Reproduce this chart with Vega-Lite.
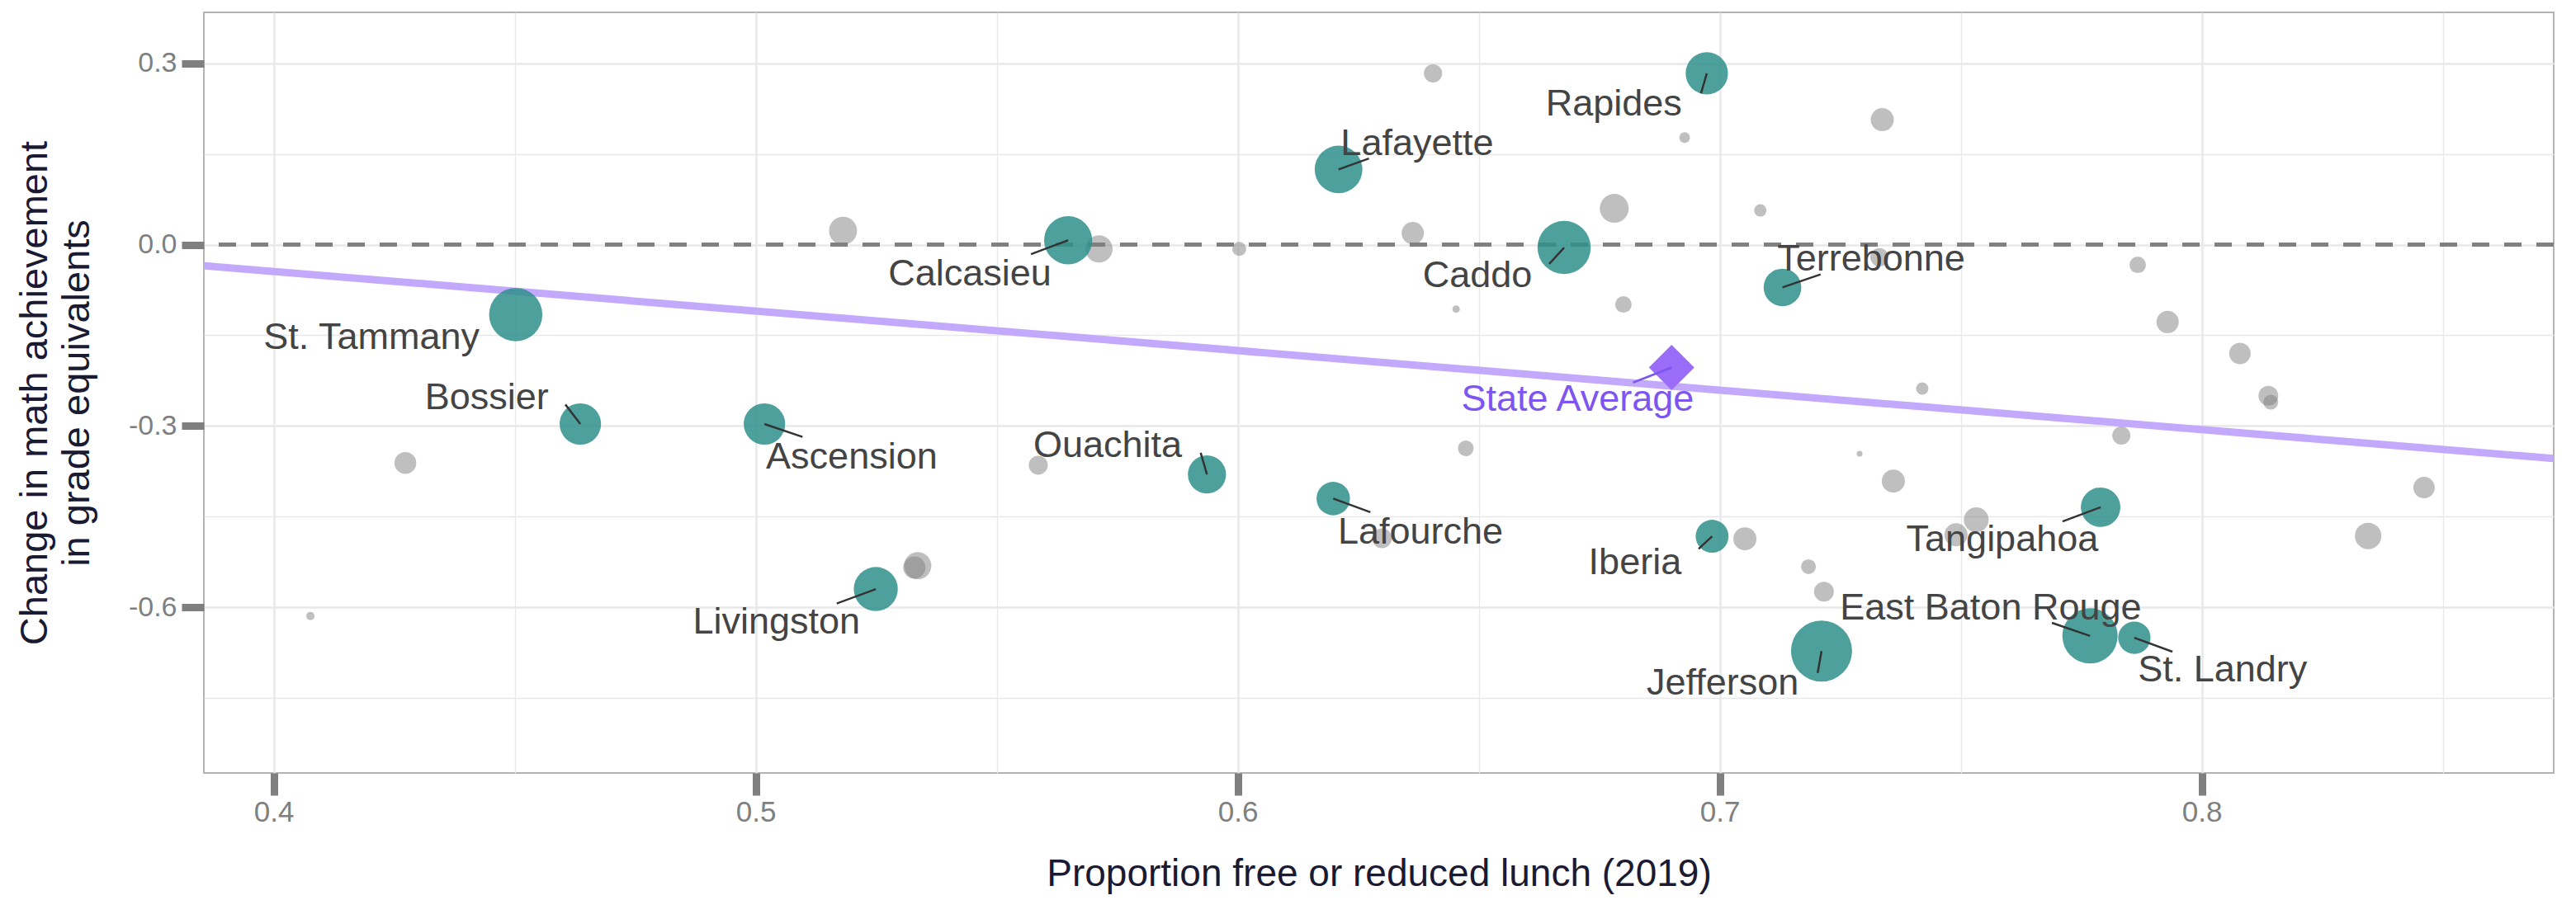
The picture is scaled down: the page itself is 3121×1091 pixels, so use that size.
{
  "$schema": "https://vega.github.io/schema/vega-lite/v6.json",
  "width": 2847,
  "height": 922,
  "autosize": {"type": "none"},
  "padding": {"left": 247, "top": 15, "right": 27, "bottom": 154},
  "background": "white",
  "config": {
    "view": {"stroke": "#b3b3b3", "strokeWidth": 2},
    "font": "Liberation Sans",
    "axisX": {
      "labelExpr": "abs(datum.value*10 - round(datum.value*10)) > 0.01 ? '' : format(datum.value, '.1f')",
      "domain": false,
      "grid": true,
      "gridColor": "#e8e8e8",
      "gridWidth": {"condition": {"test": "abs(datum.value*10 - round(datum.value*10)) > 0.01", "value": 1.3}, "value": 2.5},
      "tickColor": "#7f7f7f",
      "tickWidth": 9,
      "tickSize": 27,
      "tickOpacity": {"condition": {"test": "abs(datum.value*10 - round(datum.value*10)) > 0.01", "value": 0}, "value": 1},
      "labelFont": "Liberation Sans",
      "labelFontSize": 35,
      "labelColor": "#7f7f7f",
      "labelPadding": 3,
      "labelOverlap": false,
      "labelFlush": false,
      "titleFont": "Liberation Sans",
      "titleFontSize": 46,
      "titleFontWeight": "normal",
      "titleColor": "#1a1a33",
      "titleBaseline": "alphabetic",
      "titleAlign": "center",
      "titleX": 1423.5,
      "titleY": 136
    },
    "axisY": {
      "labelExpr": "abs(datum.value/0.3 - round(datum.value/0.3)) > 0.01 ? '' : (datum.value < -0.001 ? '-' : '') + format(abs(datum.value), '.1f')",
      "domain": false,
      "grid": true,
      "gridColor": "#e8e8e8",
      "gridWidth": {"condition": {"test": "abs(datum.value/0.3 - round(datum.value/0.3)) > 0.01", "value": 1.3}, "value": 2.5},
      "tickColor": "#7f7f7f",
      "tickWidth": 9,
      "tickSize": 27,
      "tickOpacity": {"condition": {"test": "abs(datum.value/0.3 - round(datum.value/0.3)) > 0.01", "value": 0}, "value": 1},
      "labelFont": "Liberation Sans",
      "labelFontSize": 34,
      "labelColor": "#7f7f7f",
      "labelPadding": 6,
      "labelOverlap": false,
      "labelFlush": false,
      "titleFont": "Liberation Sans",
      "titleFontSize": 47,
      "titleFontWeight": "normal",
      "titleColor": "#1a1a33",
      "titleLineHeight": 51,
      "titleAngle": -90,
      "titleBaseline": "top",
      "titleAlign": "center",
      "titleX": -228,
      "titleY": 461
    }
  },
  "datasets": {
    "focus": [
      {"name": "St. Tammany", "frl": 0.4502, "change": -0.1158, "students": 38000, "lx": 0.4203, "ly": -0.1721, "ex": null, "ey": null},
      {"name": "Bossier", "frl": 0.4636, "change": -0.2966, "students": 23000, "lx": 0.4442, "ly": -0.2716, "ex": 0.4605, "ey": -0.2644},
      {"name": "Ascension", "frl": 0.5018, "change": -0.2966, "students": 23000, "lx": 0.5199, "ly": -0.3704, "ex": 0.5097, "ey": -0.318},
      {"name": "Calcasieu", "frl": 0.5648, "change": 0.0072, "students": 31000, "lx": 0.5444, "ly": -0.067, "ex": 0.5571, "ey": -0.0158},
      {"name": "Livingston", "frl": 0.5249, "change": -0.5695, "students": 26000, "lx": 0.5043, "ly": -0.6437, "ex": 0.5168, "ey": -0.5934},
      {"name": "Ouachita", "frl": 0.5936, "change": -0.38, "students": 19500, "lx": 0.573, "ly": -0.3513, "ex": 0.5923, "ey": -0.3442},
      {"name": "Lafayette", "frl": 0.6209, "change": 0.1244, "students": 30500, "lx": 0.6372, "ly": 0.1484, "ex": 0.6272, "ey": 0.1425},
      {"name": "Lafourche", "frl": 0.6198, "change": -0.4199, "students": 15000, "lx": 0.6379, "ly": -0.4942, "ex": 0.6275, "ey": -0.4424},
      {"name": "Caddo", "frl": 0.6677, "change": -0.0048, "students": 38000, "lx": 0.6497, "ly": -0.0708, "ex": 0.6646, "ey": -0.032},
      {"name": "Rapides", "frl": 0.6973, "change": 0.2832, "students": 24000, "lx": 0.678, "ly": 0.2129, "ex": 0.6961, "ey": 0.2501},
      {"name": "Iberia", "frl": 0.6984, "change": -0.4822, "students": 14500, "lx": 0.6824, "ly": -0.5455, "ex": 0.6956, "ey": -0.5032},
      {"name": "Terrebonne", "frl": 0.713, "change": -0.0708, "students": 19000, "lx": 0.7314, "ly": -0.0431, "ex": 0.7209, "ey": -0.0492},
      {"name": "Jefferson", "frl": 0.7211, "change": -0.672, "students": 50000, "lx": 0.7006, "ly": -0.744, "ex": 0.7203, "ey": -0.7083},
      {"name": "East Baton Rouge", "frl": 0.7768, "change": -0.647, "students": 41000, "lx": 0.7562, "ly": -0.6197, "ex": 0.7689, "ey": -0.6254},
      {"name": "Tangipahoa", "frl": 0.779, "change": -0.4342, "students": 21000, "lx": 0.7586, "ly": -0.5068, "ex": 0.7711, "ey": -0.4577},
      {"name": "St. Landry", "frl": 0.786, "change": -0.65, "students": 14000, "lx": 0.8043, "ly": -0.7228, "ex": 0.7939, "ey": -0.6731}
    ],
    "others": [
      {"frl": 0.4273, "change": -0.361, "students": 6410},
      {"frl": 0.4076, "change": -0.614, "students": 913},
      {"frl": 0.5181, "change": 0.0229, "students": 10550},
      {"frl": 0.5712, "change": -0.0071, "students": 9940},
      {"frl": 0.6003, "change": -0.0071, "students": 2640},
      {"frl": 0.5586, "change": -0.3648, "students": 4830},
      {"frl": 0.5336, "change": -0.5309, "students": 9940},
      {"frl": 0.5329, "change": -0.534, "students": 6660},
      {"frl": 0.6405, "change": 0.2832, "students": 4420},
      {"frl": 0.6927, "change": 0.177, "students": 1540},
      {"frl": 0.7337, "change": 0.2066, "students": 7160},
      {"frl": 0.6781, "change": 0.0599, "students": 11180},
      {"frl": 0.6363, "change": 0.019, "students": 6660},
      {"frl": 0.7084, "change": 0.0565, "students": 2050},
      {"frl": 0.6453, "change": -0.1066, "students": 740},
      {"frl": 0.68, "change": -0.099, "students": 3650},
      {"frl": 0.7331, "change": -0.0209, "students": 4420},
      {"frl": 0.742, "change": -0.238, "students": 2050},
      {"frl": 0.6473, "change": -0.337, "students": 3300},
      {"frl": 0.7867, "change": -0.0335, "students": 3650},
      {"frl": 0.7929, "change": -0.128, "students": 6660},
      {"frl": 0.8079, "change": -0.18, "students": 6170},
      {"frl": 0.8138, "change": -0.25, "students": 5260},
      {"frl": 0.8143, "change": -0.2606, "students": 2960},
      {"frl": 0.7833, "change": -0.3157, "students": 4420},
      {"frl": 0.8461, "change": -0.4018, "students": 6170},
      {"frl": 0.8345, "change": -0.4817, "students": 9350},
      {"frl": 0.6299, "change": -0.4855, "students": 5260},
      {"frl": 0.7052, "change": -0.4865, "students": 7160},
      {"frl": 0.729, "change": -0.3456, "students": 450},
      {"frl": 0.736, "change": -0.391, "students": 7160},
      {"frl": 0.7184, "change": -0.5325, "students": 2960},
      {"frl": 0.7216, "change": -0.574, "students": 5260},
      {"frl": 0.7532, "change": -0.4549, "students": 8220},
      {"frl": 0.749, "change": -0.4799, "students": 7160}
    ],
    "state": [
      {"name": "State Average", "frl": 0.69, "change": -0.2032, "lx": 0.6705, "ly": -0.2749, "ex": 0.682, "ey": -0.2281}
    ],
    "trend": [
      {"frl": 0.3855, "change": -0.0349},
      {"frl": 0.873, "change": -0.3537}
    ],
    "zero": [
      {"change": 0}
    ]
  },
  "layer": [
    {
      "data": {"name": "trend"},
      "mark": {"type": "line", "color": "#c3a9fb", "strokeWidth": 9, "clip": true},
      "encoding": {
        "x": {"field": "frl", "type": "quantitative", "scale": {"domain": [0.3855, 0.873], "nice": false, "zero": false}, "title": "Proportion free or reduced lunch (2019)", "axis": {"values": [0.4, 0.45, 0.5, 0.55, 0.6, 0.65, 0.7, 0.75, 0.8, 0.85]}},
        "y": {"field": "change", "type": "quantitative", "scale": {"domain": [-0.8736, 0.384], "nice": false, "zero": false}, "title": ["Change in math achievement", "in grade equivalents"], "axis": {"values": [0.3, 0.15, 0, -0.15, -0.3, -0.45, -0.6, -0.75]}}
      }
    },
    {
      "data": {"name": "zero"},
      "mark": {"type": "rule", "color": "#808080", "strokeWidth": 5, "strokeDash": [21, 18]},
      "encoding": {
        "y": {"field": "change", "type": "quantitative", "scale": {"domain": [-0.8736, 0.384], "nice": false, "zero": false}, "title": ["Change in math achievement", "in grade equivalents"], "axis": {"values": [0.3, 0.15, 0, -0.15, -0.3, -0.45, -0.6, -0.75]}}
      }
    },
    {
      "data": {"name": "others"},
      "mark": {"type": "circle", "color": "#808080", "opacity": 0.5},
      "encoding": {
        "x": {"field": "frl", "type": "quantitative", "scale": {"domain": [0.3855, 0.873], "nice": false, "zero": false}, "title": "Proportion free or reduced lunch (2019)", "axis": {"values": [0.4, 0.45, 0.5, 0.55, 0.6, 0.65, 0.7, 0.75, 0.8, 0.85]}},
        "y": {"field": "change", "type": "quantitative", "scale": {"domain": [-0.8736, 0.384], "nice": false, "zero": false}, "title": ["Change in math achievement", "in grade equivalents"], "axis": {"values": [0.3, 0.15, 0, -0.15, -0.3, -0.45, -0.6, -0.75]}},
        "size": {"field": "students", "type": "quantitative", "scale": {"type": "linear", "domain": [0, 50000], "range": [0, 5476]}, "legend": null}
      }
    },
    {
      "data": {"name": "focus"},
      "mark": {"type": "circle", "color": "#2f8f8c", "opacity": 0.85},
      "encoding": {
        "x": {"field": "frl", "type": "quantitative", "scale": {"domain": [0.3855, 0.873], "nice": false, "zero": false}, "title": "Proportion free or reduced lunch (2019)", "axis": {"values": [0.4, 0.45, 0.5, 0.55, 0.6, 0.65, 0.7, 0.75, 0.8, 0.85]}},
        "y": {"field": "change", "type": "quantitative", "scale": {"domain": [-0.8736, 0.384], "nice": false, "zero": false}, "title": ["Change in math achievement", "in grade equivalents"], "axis": {"values": [0.3, 0.15, 0, -0.15, -0.3, -0.45, -0.6, -0.75]}},
        "size": {"field": "students", "type": "quantitative", "scale": {"type": "linear", "domain": [0, 50000], "range": [0, 5476]}, "legend": null}
      }
    },
    {
      "data": {"name": "state"},
      "mark": {"type": "point", "shape": "diamond", "filled": true, "color": "#9b6cf7", "opacity": 1, "size": 3025},
      "encoding": {
        "x": {"field": "frl", "type": "quantitative", "scale": {"domain": [0.3855, 0.873], "nice": false, "zero": false}, "title": "Proportion free or reduced lunch (2019)", "axis": {"values": [0.4, 0.45, 0.5, 0.55, 0.6, 0.65, 0.7, 0.75, 0.8, 0.85]}},
        "y": {"field": "change", "type": "quantitative", "scale": {"domain": [-0.8736, 0.384], "nice": false, "zero": false}, "title": ["Change in math achievement", "in grade equivalents"], "axis": {"values": [0.3, 0.15, 0, -0.15, -0.3, -0.45, -0.6, -0.75]}}
      }
    },
    {
      "data": {"name": "focus"},
      "transform": [{"filter": "isValid(datum.ex)"}],
      "mark": {"type": "rule", "color": "#333333", "strokeWidth": 2.5},
      "encoding": {
        "x": {"field": "frl", "type": "quantitative", "scale": {"domain": [0.3855, 0.873], "nice": false, "zero": false}, "title": "Proportion free or reduced lunch (2019)", "axis": {"values": [0.4, 0.45, 0.5, 0.55, 0.6, 0.65, 0.7, 0.75, 0.8, 0.85]}},
        "y": {"field": "change", "type": "quantitative", "scale": {"domain": [-0.8736, 0.384], "nice": false, "zero": false}, "title": ["Change in math achievement", "in grade equivalents"], "axis": {"values": [0.3, 0.15, 0, -0.15, -0.3, -0.45, -0.6, -0.75]}},
        "x2": {"field": "ex"},
        "y2": {"field": "ey"}
      }
    },
    {
      "data": {"name": "state"},
      "mark": {"type": "rule", "color": "#7d55f0", "strokeWidth": 2.5},
      "encoding": {
        "x": {"field": "frl", "type": "quantitative", "scale": {"domain": [0.3855, 0.873], "nice": false, "zero": false}, "title": "Proportion free or reduced lunch (2019)", "axis": {"values": [0.4, 0.45, 0.5, 0.55, 0.6, 0.65, 0.7, 0.75, 0.8, 0.85]}},
        "y": {"field": "change", "type": "quantitative", "scale": {"domain": [-0.8736, 0.384], "nice": false, "zero": false}, "title": ["Change in math achievement", "in grade equivalents"], "axis": {"values": [0.3, 0.15, 0, -0.15, -0.3, -0.45, -0.6, -0.75]}},
        "x2": {"field": "ex"},
        "y2": {"field": "ey"}
      }
    },
    {
      "data": {"name": "focus"},
      "mark": {"type": "text", "font": "Liberation Sans", "fontSize": 45, "color": "#444444", "align": "center", "baseline": "alphabetic"},
      "encoding": {
        "x": {"field": "lx", "type": "quantitative", "scale": {"domain": [0.3855, 0.873], "nice": false, "zero": false}, "title": "Proportion free or reduced lunch (2019)", "axis": {"values": [0.4, 0.45, 0.5, 0.55, 0.6, 0.65, 0.7, 0.75, 0.8, 0.85]}},
        "y": {"field": "ly", "type": "quantitative", "scale": {"domain": [-0.8736, 0.384], "nice": false, "zero": false}, "title": ["Change in math achievement", "in grade equivalents"], "axis": {"values": [0.3, 0.15, 0, -0.15, -0.3, -0.45, -0.6, -0.75]}},
        "text": {"field": "name"}
      }
    },
    {
      "data": {"name": "state"},
      "mark": {"type": "text", "font": "Liberation Sans", "fontSize": 45, "color": "#7d55f0", "align": "center", "baseline": "alphabetic"},
      "encoding": {
        "x": {"field": "lx", "type": "quantitative", "scale": {"domain": [0.3855, 0.873], "nice": false, "zero": false}, "title": "Proportion free or reduced lunch (2019)", "axis": {"values": [0.4, 0.45, 0.5, 0.55, 0.6, 0.65, 0.7, 0.75, 0.8, 0.85]}},
        "y": {"field": "ly", "type": "quantitative", "scale": {"domain": [-0.8736, 0.384], "nice": false, "zero": false}, "title": ["Change in math achievement", "in grade equivalents"], "axis": {"values": [0.3, 0.15, 0, -0.15, -0.3, -0.45, -0.6, -0.75]}},
        "text": {"field": "name"}
      }
    }
  ]
}
